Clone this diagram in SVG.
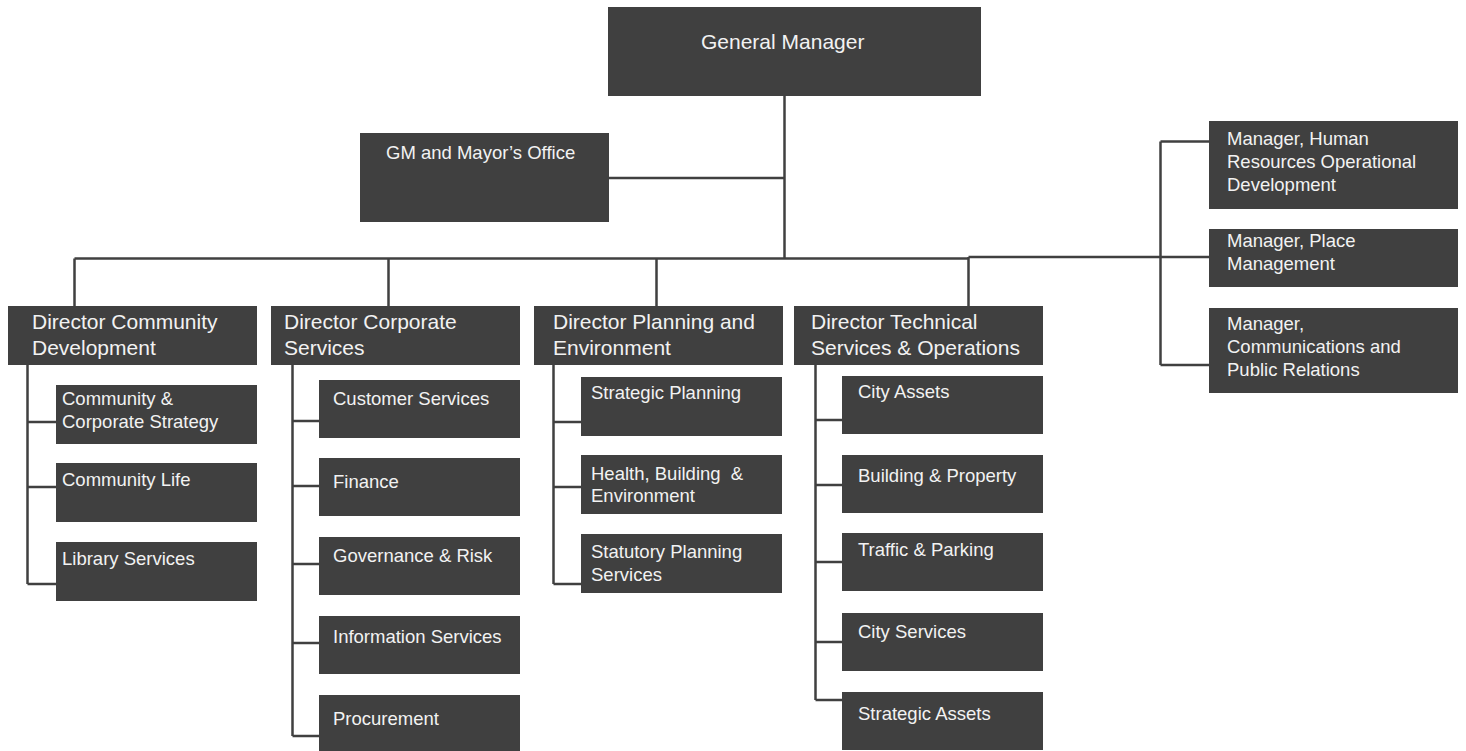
<svg xmlns="http://www.w3.org/2000/svg" width="1466" height="751" viewBox="0 0 1466 751">
<style>
.box{fill:#404040}
.t{font-family:"Liberation Sans",Arial,sans-serif;fill:#f2f2f2;font-size:18.5px}
.h{font-size:21px}
.ln{stroke:#404040;stroke-width:2.5;fill:none}
</style>
<rect width="1466" height="751" fill="#ffffff"/>
<g id="connectors" class="ln">
<path d="M784.5 96V258.5"/>
<path d="M609 178H784.5"/>
<path d="M74.5 258.5H968.5"/>
<path d="M968.5 257H1160.5"/>
<path d="M74.5 258.5V306M388.5 258.5V306M656.5 258.5V306M968.5 257V306"/>
<path d="M1160.5 141.5V365M1160.5 141.5H1209M1160.5 365H1209M1160.5 257H1209"/>
<path d="M27.5 365V584M27.5 422H56M27.5 487H56M27.5 584H56"/>
<path d="M292.5 365V736M292.5 421H319M292.5 486H319M292.5 564H319M292.5 643H319M292.5 736H319"/>
<path d="M553.5 365V584M553.5 422H581M553.5 487H581M553.5 584H581"/>
<path d="M815.5 365V700M815.5 420H842M815.5 485H842M815.5 562H842M815.5 642H842M815.5 700H842"/>
</g>
<g id="gm"><rect class="box" x="608" y="7" width="373" height="89"/><text class="t h" x="701" y="49">General Manager</text></g>
<g id="gmo"><rect class="box" x="360" y="133" width="249" height="89"/><text class="t" x="386" y="159">GM and Mayor’s Office</text></g>
<g id="dcd"><rect class="box" x="8" y="306" width="249" height="59"/><text class="t h" x="32"><tspan x="32" y="329">Director Community</tspan><tspan x="32" y="355">Development</tspan></text></g>
<g id="dcs"><rect class="box" x="271" y="306" width="249" height="59"/><text class="t h"><tspan x="284" y="329">Director Corporate</tspan><tspan x="284" y="355">Services</tspan></text></g>
<g id="dpe"><rect class="box" x="534" y="306" width="249" height="59"/><text class="t h"><tspan x="553" y="329">Director Planning and</tspan><tspan x="553" y="355">Environment</tspan></text></g>
<g id="dtso"><rect class="box" x="794" y="306" width="249" height="59"/><text class="t h"><tspan x="811" y="329">Director Technical</tspan><tspan x="811" y="355">Services &amp; Operations</tspan></text></g>
<g id="ccs"><rect class="box" x="56" y="385" width="201" height="59"/><text class="t"><tspan x="62" y="405">Community &amp;</tspan><tspan x="62" y="428">Corporate Strategy</tspan></text></g>
<g id="cl"><rect class="box" x="56" y="463" width="201" height="59"/><text class="t" x="62" y="486">Community Life</text></g>
<g id="ls"><rect class="box" x="56" y="542" width="201" height="59"/><text class="t" x="62" y="565">Library Services</text></g>
<g id="cs"><rect class="box" x="319" y="380" width="201" height="58"/><text class="t" x="333" y="405">Customer Services</text></g>
<g id="fin"><rect class="box" x="319" y="458" width="201" height="58"/><text class="t" x="333" y="488">Finance</text></g>
<g id="gr"><rect class="box" x="319" y="537" width="201" height="58"/><text class="t" x="333" y="562">Governance &amp; Risk</text></g>
<g id="is"><rect class="box" x="319" y="616" width="201" height="58"/><text class="t" x="333" y="643">Information Services</text></g>
<g id="proc"><rect class="box" x="319" y="695" width="201" height="58"/><text class="t" x="333" y="725">Procurement</text></g>
<g id="sp"><rect class="box" x="581" y="377" width="201" height="59"/><text class="t" x="591" y="399">Strategic Planning</text></g>
<g id="hbe"><rect class="box" x="581" y="455" width="201" height="59"/><text class="t" style="white-space:pre"><tspan x="591" y="480">Health, Building  &amp;</tspan><tspan x="591" y="502">Environment</tspan></text></g>
<g id="sps"><rect class="box" x="581" y="534" width="201" height="59"/><text class="t"><tspan x="591" y="558">Statutory Planning</tspan><tspan x="591" y="581">Services</tspan></text></g>
<g id="ca"><rect class="box" x="842" y="376" width="201" height="58"/><text class="t" x="858" y="398">City Assets</text></g>
<g id="bp"><rect class="box" x="842" y="455" width="201" height="58"/><text class="t" x="858" y="482">Building &amp; Property</text></g>
<g id="tp"><rect class="box" x="842" y="533" width="201" height="58"/><text class="t" x="858" y="556">Traffic &amp; Parking</text></g>
<g id="csv"><rect class="box" x="842" y="613" width="201" height="58"/><text class="t" x="858" y="638">City Services</text></g>
<g id="sa"><rect class="box" x="842" y="692" width="201" height="58"/><text class="t" x="858" y="720">Strategic Assets</text></g>
<g id="hr"><rect class="box" x="1209" y="121" width="249" height="88"/><text class="t"><tspan x="1227" y="145">Manager, Human</tspan><tspan x="1227" y="168">Resources Operational</tspan><tspan x="1227" y="191">Development</tspan></text></g>
<g id="pm"><rect class="box" x="1209" y="229" width="249" height="58"/><text class="t"><tspan x="1227" y="247">Manager, Place</tspan><tspan x="1227" y="270">Management</tspan></text></g>
<g id="cpr"><rect class="box" x="1209" y="308" width="249" height="85"/><text class="t"><tspan x="1227" y="330">Manager,</tspan><tspan x="1227" y="353">Communications and</tspan><tspan x="1227" y="376">Public Relations</tspan></text></g>
</svg>
